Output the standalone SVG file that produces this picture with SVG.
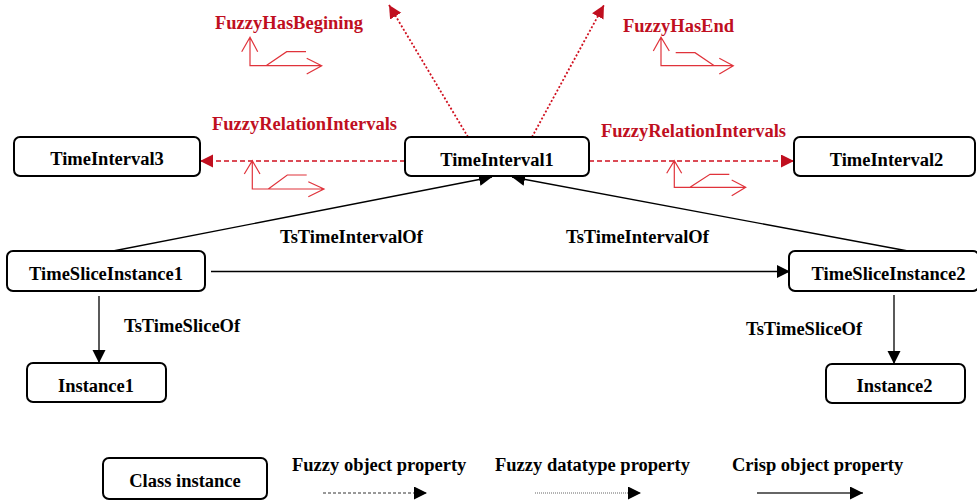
<svg xmlns="http://www.w3.org/2000/svg" width="977" height="503" viewBox="0 0 977 503">
<style>
.node rect{fill:#fff;stroke:#000;stroke-width:2}
text{font-family:"Liberation Serif","Times New Roman",serif;font-weight:bold;font-size:18.5px}
.nt{text-anchor:middle;fill:#000}
.rl{fill:#c00f1f}
.bl{fill:#000}
.crisp{stroke:#000;stroke-width:1.3;fill:none}
.fobj{stroke:#d0101f;stroke-width:1.4;stroke-dasharray:5 3;fill:none}
.fdat{stroke:#d0101f;stroke-width:1.8;stroke-dasharray:2 2;fill:none}
.icon{stroke:#e0333b;stroke-width:1.2;fill:none}
</style>
<defs>
<marker id="ab" markerUnits="userSpaceOnUse" markerWidth="14" markerHeight="14" refX="13" refY="6.5" orient="auto"><path d="M0,0 L13,6.5 L0,13 z" fill="#000"/></marker>
<marker id="ar" markerUnits="userSpaceOnUse" markerWidth="14" markerHeight="14" refX="13" refY="6.5" orient="auto"><path d="M0,0 L13,6.5 L0,13 z" fill="#c00f1f"/></marker>
</defs>

<g id="connectors">
<line class="fobj" x1="405" y1="161" x2="200" y2="161" marker-end="url(#ar)"/>
<line class="fobj" x1="589" y1="161" x2="794" y2="161" marker-end="url(#ar)"/>
<line class="fdat" x1="468" y1="137" x2="389" y2="5" marker-end="url(#ar)"/>
<line class="fdat" x1="532" y1="137" x2="604" y2="5" marker-end="url(#ar)"/>
<line class="crisp" x1="113" y1="251" x2="492" y2="177" marker-end="url(#ab)"/>
<line class="crisp" x1="908" y1="251" x2="512" y2="177" marker-end="url(#ab)"/>
<line class="crisp" x1="211" y1="271.5" x2="790" y2="271.5" marker-end="url(#ab)"/>
<line class="crisp" x1="99" y1="296" x2="99" y2="363" marker-end="url(#ab)"/>
<line class="crisp" x1="894" y1="295" x2="894" y2="364" marker-end="url(#ab)"/>
</g>

<g id="labels">
<text class="rl" x="215" y="29">FuzzyHasBegining</text>
<text class="rl" x="623" y="32">FuzzyHasEnd</text>
<text class="rl" x="212" y="130">FuzzyRelationIntervals</text>
<text class="rl" x="601" y="137">FuzzyRelationIntervals</text>
<text class="bl" x="280" y="243">TsTimeIntervalOf</text>
<text class="bl" x="566" y="243">TsTimeIntervalOf</text>
<text class="bl" x="124" y="332">TsTimeSliceOf</text>
<text class="bl" x="746" y="335">TsTimeSliceOf</text>
</g>

<g id="fuzzy-icons">
<path class="icon" d="M250,37.3 V65.7 H321.7 M241.7,51.7 L250,37.3 L257.7,51.7 M306.7,58.3 L321.7,65.7 L306.7,74 M266,65.7 L286.7,51.7 H306"/>
<path class="icon" d="M252.3,160.7 V189 H324 M244.3,174 L252.3,160.7 L260,174 M308.3,181.7 L324,189 L308.3,196.7 M268.3,189 L287.3,175 H306.7"/>
<path class="icon" d="M661,37.3 V65.7 H733.3 M653.3,51 L661,37.3 L669.3,51 M719.3,58.3 L733.3,65.7 L719.3,74 M675.7,52.7 H695 L714.3,65.7"/>
<path class="icon" d="M674.3,160.7 V187.3 H745.7 M666.7,173.3 L674.3,160.7 L681.7,173.3 M731.7,180 L745.7,187.3 L731.7,195.7 M690,187.3 L710,174.3 H729.3"/>
</g>

<g id="TimeInterval3" class="node"><rect x="14" y="137" width="186" height="39" rx="6"/><text class="nt" x="107" y="165">TimeInterval3</text></g>
<g id="TimeInterval1" class="node"><rect x="405" y="137" width="184" height="39" rx="6"/><text class="nt" x="497" y="166">TimeInterval1</text></g>
<g id="TimeInterval2" class="node"><rect x="794" y="137" width="181" height="39" rx="6"/><text class="nt" x="886.5" y="166">TimeInterval2</text></g>
<g id="TimeSliceInstance1" class="node"><rect x="7" y="251" width="198" height="40" rx="6"/><text class="nt" x="106" y="280">TimeSliceInstance1</text></g>
<g id="TimeSliceInstance2" class="node"><rect x="789" y="251" width="190" height="40" rx="6"/><text class="nt" x="888.5" y="280">TimeSliceInstance2</text></g>
<g id="Instance1" class="node"><rect x="27" y="363" width="139" height="39" rx="6"/><text class="nt" x="96" y="392">Instance1</text></g>
<g id="Instance2" class="node"><rect x="826" y="364" width="139" height="39" rx="6"/><text class="nt" x="894.5" y="392">Instance2</text></g>

<g id="legend">
<g id="ClassInstance" class="node"><rect x="103" y="458" width="164" height="41" rx="6"/><text class="nt" x="185" y="487">Class instance</text></g>
<text class="bl" x="292" y="471">Fuzzy object property</text>
<text class="bl" x="495" y="471">Fuzzy datatype property</text>
<text class="bl" x="732" y="471">Crisp object property</text>
<line x1="323" y1="493" x2="427" y2="493" stroke="#333" stroke-width="1" stroke-dasharray="3 2" marker-end="url(#ab)"/>
<line x1="535" y1="493" x2="641" y2="493" stroke="#666" stroke-width="1" stroke-dasharray="1 1" marker-end="url(#ab)"/>
<line x1="757" y1="493" x2="863" y2="493" stroke="#333" stroke-width="1.3" marker-end="url(#ab)"/>
</g>
</svg>
